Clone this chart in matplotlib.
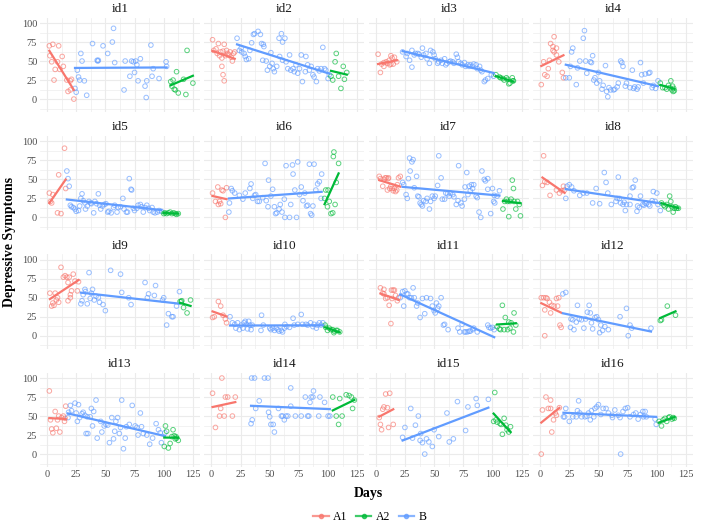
import numpy as np
import matplotlib
matplotlib.use("Agg")
import matplotlib.pyplot as plt
from matplotlib.lines import Line2D

# (day, score) pairs, one list per id and phase
id1_A1 = [(2, 70), (5, 72), (10, 70), (2.5, 57), (4, 49), (13, 56), (7, 39), (11, 39), (9, 49), (14, 43),
          (6, 25), (17, 25), (21, 26), (20, 24), (18, 10), (20, 12), (23, 0)]
id1_B = [(24, 14), (25, 9), (26, 38), (27, 29), (28, 25), (32, 24), (29, 60), (30, 50), (34, 5), (39, 73),
         (43, 51), (43.5, 50), (44, 51), (48, 70), (52, 60), (56, 75), (57, 93), (58, 48), (66, 12), (67, 50),
         (71, 30), (72.5, 50), (74, 49), (75, 35), (76, 50), (77, 45), (78, 24), (80, 53), (84, 17), (85, 2),
         (85.5, 24), (89, 71), (90, 30), (91, 40), (96, 27), (102, 49), (102.5, 43)]
id1_A2 = [(106, 23), (108, 25), (107, 17), (109, 13), (110, 12), (111, 36), (112.5, 8), (117, 26), (119, 6),
          (120, 64), (125, 21)]

id2_A1 = [(1, 78), (2, 64), (4, 66), (6, 73), (5, 60), (7, 57), (8, 62), (9, 54), (10, 63), (11, 72), (12, 57),
          (13, 64), (14, 60), (15, 58), (16, 62), (17, 55), (18, 50), (19, 60), (20, 62), (9, 43), (10, 32), (11, 24)]
id2_B = [(22, 80), (24, 64), (25.5, 67), (26, 62), (28, 60), (29, 56), (30, 52), (32, 53), (33, 64), (34.5, 74),
         (36, 85), (37, 86), (40, 89), (42, 85), (43, 73), (44.5, 72), (45, 69), (44, 51), (47, 50), (48, 38),
         (50, 43), (51, 61), (52, 47), (53, 40), (54, 36), (56, 43), (58, 80), (60, 86), (61, 75), (63, 80),
         (58.5, 56), (61, 51), (64, 49), (65.5, 40), (67, 58), (68, 38), (70, 40), (71, 36), (72.5, 45), (74, 34),
         (75.5, 40), (77, 58), (78, 23), (80.5, 36), (81, 56), (82.5, 45), (84, 38), (85.5, 43), (87, 32),
         (88, 29), (90, 23), (91, 40), (92.5, 37), (94, 40), (95.5, 68), (97, 40), (98, 38), (100, 27), (101, 32)]
id2_A2 = [(102.5, 30), (104, 25), (106, 49), (107, 60), (109, 30), (111, 14), (113, 43), (114, 26), (116, 35)]

id3_A1 = [(2, 59), (4, 35), (5, 46), (7, 43), (9, 49), (10, 47), (11.5, 51), (13, 57), (14, 54), (15, 46),
          (12, 45), (16, 55), (18, 49), (7, 48), (13, 46)]
id3_B = [(23, 62), (26, 56), (27, 60), (29, 51), (31, 64), (31, 42), (33, 58), (34, 60), (36, 60), (37, 59),
         (39, 55), (40, 67), (41, 58), (43, 60), (44, 53), (46, 47), (47, 64), (49, 62), (50, 58), (51, 53),
         (53, 47), (54, 49), (56, 51), (57, 47), (59, 53), (60, 45), (61, 47), (63, 49), (64, 50), (66, 49),
         (67, 47), (69, 59), (70, 55), (71, 49), (73, 47), (74, 45), (76, 48), (77, 43), (79, 45), (80, 43),
         (81, 45), (83, 43), (84, 46), (86, 45), (87, 40), (89, 43), (90, 38), (91, 36), (93, 23), (94, 25),
         (96, 27), (99, 32), (101, 30)]
id3_A2 = [(103, 32), (106, 29), (107, 28), (109, 27), (110, 25), (112, 28), (113, 26), (114, 20), (115, 21),
          (117, 28), (117.5, 24), (118, 24)]

id4_A1 = [(1, 19), (3, 49), (4, 32), (6, 30), (7, 40), (8, 51), (9, 73), (11, 69), (12, 82), (12, 62), (14, 67),
          (14, 58), (16, 49), (19, 35), (20, 28), (11, 64)]
id4_B = [(22, 28), (25, 28), (26, 43), (27, 62), (28, 67), (31, 19), (32, 41), (34, 50), (37, 80), (38, 90),
         (39, 50), (40, 34), (43, 49), (44, 48), (45, 57), (46, 25), (47, 28), (48.5, 21), (50, 35), (51, 24),
         (53, 13), (54, 18), (56, 44), (57, 10), (58, 3), (59, 15), (60.5, 12), (63, 12), (64, 13), (66, 16),
         (67, 21), (69, 50), (70, 48), (71, 43), (73, 17), (74, 21), (77, 15), (79, 38), (80, 14), (81, 16),
         (83, 13), (84, 16), (86, 48), (87, 32), (88.5, 21), (90, 33), (93, 34), (94, 35), (96, 15), (97, 18),
         (99, 14), (101, 24)]
id4_A2 = [(103, 21), (105, 15), (107, 15), (108.5, 13), (110, 18), (111, 15), (112, 24), (113, 12), (114, 10),
          (113.5, 17), (115, 11), (114.5, 14)]

id5_A1 = [(2, 32), (3, 21), (4, 19), (5, 30), (9, 6), (10, 56), (12, 5), (15, 91), (16, 38)]
id5_B = [(17, 61), (18, 51), (19, 41), (20, 16), (21, 14), (22.5, 13), (24, 11), (25, 8), (27, 9), (28, 15),
         (29, 25), (30, 31), (31, 22), (32.5, 19), (33, 11), (34.5, 15), (36, 21), (37.5, 19), (38, 18), (40, 6),
         (41, 21), (42.5, 18), (44, 31), (45, 16), (46, 11), (47.5, 15), (49, 17), (50.5, 18), (52, 7), (53, 8),
         (55, 6), (57, 13), (58, 16), (60, 7), (61, 13), (63, 14), (65, 25), (66, 11), (68, 7), (69, 7),
         (70.5, 51), (72, 37), (72.5, 36), (74, 12), (75, 9), (77, 12), (78, 16), (80, 17), (81, 14), (82.5, 7),
         (84, 13), (85.5, 16), (87, 12), (88, 9), (90, 13), (91, 7), (92.5, 6), (94.5, 7), (96, 9), (98, 8)]
id5_A2 = [(100, 5), (101, 6), (102.5, 5), (104, 6), (105.5, 7), (107, 5), (108.5, 6), (110, 5), (111, 4), (112.5, 5)]

id6_A1 = [(1, 32), (3.5, 21), (5.5, 40), (6, 17), (8, 18), (9, 36), (10, 35), (12, 0), (13, 39), (7, 21)]
id6_B = [(15, 7), (15.5, 19), (17, 38), (18, 35), (20, 32), (24, 29), (27, 24), (29, 32), (33, 38), (34, 44),
         (35.5, 25), (37, 29), (38, 30), (39.5, 21), (41, 21), (44, 26), (46, 71), (47, 22), (48.5, 14), (49, 49),
         (51, 28), (52.5, 37), (54, 14), (55, 5), (56, 6), (58, 11), (59, 17), (60.5, 7), (62.5, 24), (63, 0),
         (64, 68), (67, 0), (68, 17), (69.5, 69), (70, 57), (71.5, 36), (73, 0), (74, 73), (75.5, 30), (77, 40),
         (78.5, 22), (80, 32), (81.5, 15), (82.5, 16), (84, 70), (85, 5), (86, 3), (87, 15), (88, 70),
         (89.5, 36), (91, 44), (92.5, 47), (94, 25), (94.5, 57)]
id6_A2 = [(97, 25), (98, 36), (99.5, 14), (100, 36), (101, 21), (102.5, 5), (104, 6), (105, 86), (104.5, 80),
          (106, 17), (107, 46), (109, 71)]

id7_A1 = [(3, 54), (4, 51), (6, 41), (7, 50), (8, 52), (9, 52), (10.5, 51), (11, 52), (12, 38), (13, 41),
          (14, 38), (15, 35), (16, 38), (17, 34), (18.5, 43), (19.5, 52), (21, 54), (18, 36), (10, 36)]
id7_B = [(23, 46), (24, 43), (26, 30), (27, 25), (28, 51), (29, 78), (29.5, 61), (31, 73), (32, 76), (33, 39),
         (35, 54), (36, 28), (37, 27), (38, 19), (39, 17), (40, 15), (41, 22), (43, 21), (44, 25), (46, 11),
         (47, 21), (48.5, 28), (50, 25), (51, 28), (53, 42), (54, 81), (56, 52), (57, 24), (59, 24), (60, 32),
         (61.5, 31), (63, 28), (64, 32), (66, 30), (67, 27), (69, 17), (70.5, 22), (71, 68), (73, 19), (74, 15),
         (76, 24), (76.5, 40), (78, 59), (79, 30), (80, 41), (81, 35), (82, 43), (83, 38), (84, 43), (86, 28),
         (87, 26), (88.5, 7), (90, 0), (91, 61), (93, 50), (94, 48), (96, 51), (96, 37), (98.5, 5), (100, 38),
         (101, 21), (101.5, 29), (102, 19), (104, 28), (106, 35)]
id7_A2 = [(109, 11), (110.5, 21), (112, 24), (113, 21), (114, 1), (115, 21), (116, 24), (117, 49), (118, 38),
          (118.5, 21), (120, 11), (121.5, 21), (123, 17), (124, 2)]

id8_A1 = [(2, 42), (3, 81), (4, 47), (6, 46), (8.5, 29), (14, 36), (16.5, 32), (18.5, 35), (20, 41), (21, 36)]
id8_B = [(22, 25), (23, 41), (25, 43), (27, 40), (29, 35), (34, 29), (37, 32), (40, 32), (45, 19), (48, 38),
         (51, 18), (55, 59), (56.5, 46), (58, 32), (61, 17), (65, 21), (66, 25), (67, 53), (68, 25), (69, 19),
         (71, 17), (72, 20), (73, 9), (74, 17), (77, 17), (77, 28), (79, 39), (80, 40), (81.5, 49), (83, 8),
         (83.5, 15), (85, 13), (86, 28), (88, 17), (89, 16), (90, 19), (91, 18), (93, 17), (94, 15), (96, 22),
         (97, 34), (98.5, 21), (100, 32), (101, 17), (103, 9)]
id8_A2 = [(104, 19), (106, 16), (107, 14), (108.5, 17), (110, 11), (111, 28), (112, 21), (113, 14), (114, 7),
          (115, 12), (116, 14), (117, 12), (118.5, 12)]

id9_A1 = [(2.5, 56), (4, 39), (5, 43), (6, 40), (7, 56), (8, 47), (10, 44), (9, 50), (12, 90), (14, 77),
          (15.5, 79), (17, 77), (18, 70), (18, 46), (20, 50), (20, 54), (21, 59), (22.5, 81), (24, 72), (26, 59),
          (27, 71), (19, 77)]
id9_B = [(29, 42), (30, 46), (31, 54), (32.5, 61), (33, 58), (34.5, 42), (36, 83), (37, 49), (38, 56), (39, 61),
         (40.5, 47), (42, 52), (44, 50), (45, 44), (48, 41), (50, 33), (54.5, 86), (63, 81), (64, 57), (70, 50),
         (72, 41), (84, 70), (86, 50), (87, 55), (92, 53), (93, 66), (99, 47), (100, 50), (102.5, 14), (104, 29),
         (107, 25), (108, 25), (111, 39), (113.5, 58)]
id9_A2 = [(114, 45), (115.5, 46), (117, 37), (120, 30), (123, 47), (115, 45)]

id10_A1 = [(1, 24), (2.5, 25), (6, 45), (8, 39), (10, 27), (12, 22), (13, 17)]
id10_B = [(16, 25), (18, 17), (20, 15), (21, 10), (22.5, 17), (24, 8), (25.5, 14), (27, 10), (28, 17), (29, 19),
          (30, 15), (31, 9), (32, 19), (33, 14), (34, 8), (35, 14), (42.5, 7), (43, 27), (44.5, 14), (50, 10),
          (51, 8), (52.5, 10), (54, 7), (55.5, 10), (57, 8), (58, 6), (60, 7), (61, 5), (62.5, 10), (63, 15),
          (64.5, 12), (67, 11), (70, 23), (71, 14), (74, 15), (77, 28), (78, 15), (81, 15), (82.5, 14), (85, 17),
          (87, 12), (88, 15), (90, 10), (91, 14), (92.5, 17), (94, 14), (95.5, 17)]
id10_A2 = [(97.5, 14), (99.5, 7), (101, 10), (102.5, 8), (104, 8), (105.5, 6), (107, 7), (108, 7), (110, 5),
           (98, 11), (105, 4)]

id11_A1 = [(4, 63), (6, 56), (7, 55), (7, 61), (8.5, 49), (10, 50), (11.5, 40), (13, 16), (13.5, 60), (15, 60),
           (16, 60), (17, 53), (18.5, 46), (19.5, 50), (14, 49)]
id11_B = [(21, 50), (23, 58), (24, 39), (25, 59), (26.5, 55), (27.5, 55), (29, 50), (30.5, 50), (32, 63), (33, 50),
          (35, 39), (36, 43), (38, 24), (40, 49), (42, 29), (43.5, 50), (47, 49), (48.5, 39), (50, 33), (51, 30),
          (52, 43), (53, 36), (54, 39), (56, 50), (58, 14), (59, 15), (62, 8), (70.5, 10), (72, 5), (74, 15),
          (76, 5), (77, 5), (78.5, 5), (80, 6), (81, 6), (83, 8), (84, 10), (87, 5), (96, 14), (97, 11),
          (98.5, 10), (100, 11), (101.5, 8)]
id11_A2 = [(104, 12), (106, 9), (107, 8), (108.5, 40), (110, 8), (111, 24), (113, 8), (114, 18), (115, 10),
           (116, 17), (118, 5), (118.5, 30), (120, 14)]

id12_A1 = [(1, 50), (3, 50), (5, 50), (4, 34), (6, 49), (8, 44), (9, 30), (10, 40), (12, 39), (14, 49), (15, 39),
           (16, 50), (17, 14), (18, 11), (4, 0)]
id12_B = [(19.5, 55), (22, 57), (26, 11), (26.5, 22), (28, 21), (29, 8), (31, 18), (32, 40), (33.5, 22),
          (35.5, 21), (37.5, 10), (39, 22), (40.5, 31), (42, 40), (43, 30), (44, 17), (45, 9), (47, 24),
          (48.5, 25), (50, 21), (51, 4), (52, 14), (53.5, 7), (55.5, 12), (58.5, 8), (68.5, 25), (74, 36),
          (77, 14), (75.5, 0), (78.5, 10), (95, 10)]
id12_A2 = [(103, 20), (104, 21), (109, 39), (116, 27)]

id13_A1 = [(2, 83), (3, 45), (4, 33), (5, 28), (7, 56), (8, 34), (9, 45), (10, 50), (11, 29), (12.5, 48),
           (14, 50), (15, 43), (15.5, 47), (16, 63)]
id13_B = [(18, 48), (18.5, 55), (20, 64), (21, 57), (24, 67), (25, 54), (26, 43), (27, 65), (28, 48), (30, 53),
          (31, 55), (32.5, 51), (33.5, 27), (34.5, 49), (35, 27), (37, 49), (38, 60), (39, 37), (40, 56), (42, 71),
          (43, 21), (46, 43), (47, 29), (49, 37), (50.5, 39), (52, 38), (53.5, 15), (55.5, 48), (57, 20), (58, 30),
          (59, 43), (60.5, 48), (62, 27), (63, 35), (64, 71), (65.5, 7), (67, 21), (68, 36), (70.5, 39), (73, 64),
          (75.5, 37), (77, 35), (78, 25), (80, 54), (81, 36), (82.5, 27), (85.5, 25), (88, 13), (90.5, 21),
          (93.5, 40), (95.5, 32), (97, 28), (98, 15), (101, 28)]
id13_A2 = [(100.5, 10), (101.5, 37), (102.5, 30), (104, 8), (105.5, 14), (107, 23), (108, 32), (109, 24),
           (110, 20), (111, 21), (112.5, 18), (110.5, 23)]

id14_A1 = [(1, 80), (3.5, 35), (7, 50), (8, 60), (9, 100), (11, 50), (12, 75), (14, 75), (18, 50), (20.5, 75)]
id14_B = [(34, 40), (35, 45), (34.5, 100), (37, 100), (45.5, 100), (48.5, 100), (41, 70), (38, 60), (49, 55),
          (50, 49), (51, 39), (53, 39), (54, 29), (57.5, 60), (60, 50), (61, 50), (62.5, 45), (64, 50), (65.5, 50),
          (68, 87), (72, 50), (77, 50), (80.5, 75), (82.5, 50), (83.5, 50), (84.5, 68), (85.5, 75), (87, 75),
          (87.5, 83), (92, 50), (93, 75), (97, 68), (100, 50), (101.5, 50), (68, 63)]
id14_A2 = [(104, 75), (107, 50), (109, 39), (110, 73), (112, 50), (115.5, 78), (118, 77), (120, 75), (121, 60),
           (122.5, 71)]

id15_A1 = [(3, 48), (4, 39), (5, 32), (6, 59), (7, 62), (8.5, 79), (10, 61), (11, 35), (12, 80), (15, 39)]
id15_B = [(23, 22), (25, 35), (30, 60), (31.5, 21), (34, 38), (36.5, 50), (38, 18), (38.5, 27), (40, 15), (42, 0),
          (43.5, 20), (45.5, 16), (48.5, 10), (50, 32), (54, 23), (61, 54), (63, 16), (66.5, 20), (70, 69),
          (77, 31), (79, 62), (86, 73), (87, 64), (96.5, 72)]
id15_A2 = [(101, 43), (102, 81), (103, 45), (104, 42), (106.5, 40), (107.5, 39), (108.5, 26), (110, 47),
           (111.5, 38), (112.5, 32), (114, 29), (115.5, 36)]

id16_A1 = [(1, 0), (2, 58), (5, 75), (7, 60), (9, 60), (9, 71), (10, 29), (11.5, 45), (13, 54), (14, 51), (16.5, 61)]
id16_B = [(20, 49), (21, 49), (22, 60), (25, 43), (28, 49), (31, 49), (33, 70), (32, 57), (34, 54), (35.5, 49),
          (38.5, 49), (40, 50), (41.5, 54), (43, 45), (44, 57), (46, 49), (47, 60), (48.5, 62), (50, 65), (52, 52),
          (54, 60), (56.5, 60), (58.5, 54), (61.5, 51), (62, 48), (64, 58), (67, 51), (68.5, 48), (69, 0), (71, 56),
          (73, 60), (75, 61), (77, 49), (80, 52), (82, 54), (84, 46), (86, 52), (88, 56), (88.5, 49), (90, 56),
          (91, 49), (98.5, 46), (99.5, 39)]
id16_A2 = [(102, 43), (104, 37), (105.5, 45), (107, 47), (108.5, 43), (110, 48), (111, 49), (113, 46), (114, 48),
           (115, 47)]

phases = ["A1", "A2", "B"]
colors = {"A1": "#F8766D", "A2": "#00BA38", "B": "#619CFF"}

panels = []
for i in range(1, 17):
    g = globals()
    panels.append(("id%d" % i, {"A1": g["id%d_A1" % i], "B": g["id%d_B" % i], "A2": g["id%d_A2" % i]}))

plt.rcParams['font.family'] = ['Liberation Serif', 'DejaVu Serif']

W, H = 701, 530
fig, axes = plt.subplots(4, 4, figsize=(W / 100, H / 100), dpi=100, sharex=True, sharey=True)
fig.subplots_adjust(left=40 / W, right=693 / W, top=1 - 17.7 / H, bottom=1 - 467 / H,
                    wspace=0.028, hspace=0.255)

for ax, (name, groups) in zip(axes.flat, panels):
    for ph in ["A1", "B", "A2"]:
        pts = np.array(groups[ph], dtype=float)
        x, y = pts[:, 0], pts[:, 1]
        ax.scatter(x, y, s=11, facecolors='none', edgecolors=colors[ph], linewidths=0.7, alpha=0.65, zorder=2)
        # linear fit per phase, like geom_smooth(method = "lm", se = FALSE)
        k, m = np.polyfit(x, y, 1)
        xs = np.array([x.min(), x.max()])
        ax.plot(xs, k * xs + m, color=colors[ph], lw=1.6, zorder=3)
    ax.set_title(name, fontsize=9.5, color='#1A1A1A', pad=4)
    ax.set_xlim(-6, 131)
    ax.set_ylim(-17, 107)
    ax.set_xticks([0, 25, 50, 75, 100, 125])
    ax.set_yticks([0, 25, 50, 75, 100])
    ax.set_xticks([12.5, 37.5, 62.5, 87.5, 112.5], minor=True)
    ax.set_yticks([-12.5, 12.5, 37.5, 62.5, 87.5], minor=True)
    ax.grid(True, which='major', color='#EBEBEB', lw=0.8)
    ax.grid(True, which='minor', color='#EBEBEB', lw=0.45)
    ax.set_axisbelow(True)
    for s in ax.spines.values():
        s.set_visible(False)
    ax.tick_params(which='both', length=0, labelsize=7.5, labelcolor='#4D4D4D', pad=2)

fig.text(368 / W, 1 - 493 / H, "Days", ha='center', va='center', fontsize=10, fontweight='bold')
fig.text(10 / W, 1 - 242 / H, "Depressive Symptoms", ha='center', va='center', rotation=90,
         fontsize=10, fontweight='bold')

handles = [Line2D([], [], color=colors[p], lw=1.6, marker='o', markersize=3, alpha=0.75) for p in phases]
fig.legend(handles, phases, loc='center', bbox_to_anchor=(370 / W, 1 - 517 / H), ncol=3, frameon=False,
           fontsize=8.5, handlelength=1.3, handletextpad=0.4, columnspacing=0.7)

fig.savefig("out.png", dpi=100)
